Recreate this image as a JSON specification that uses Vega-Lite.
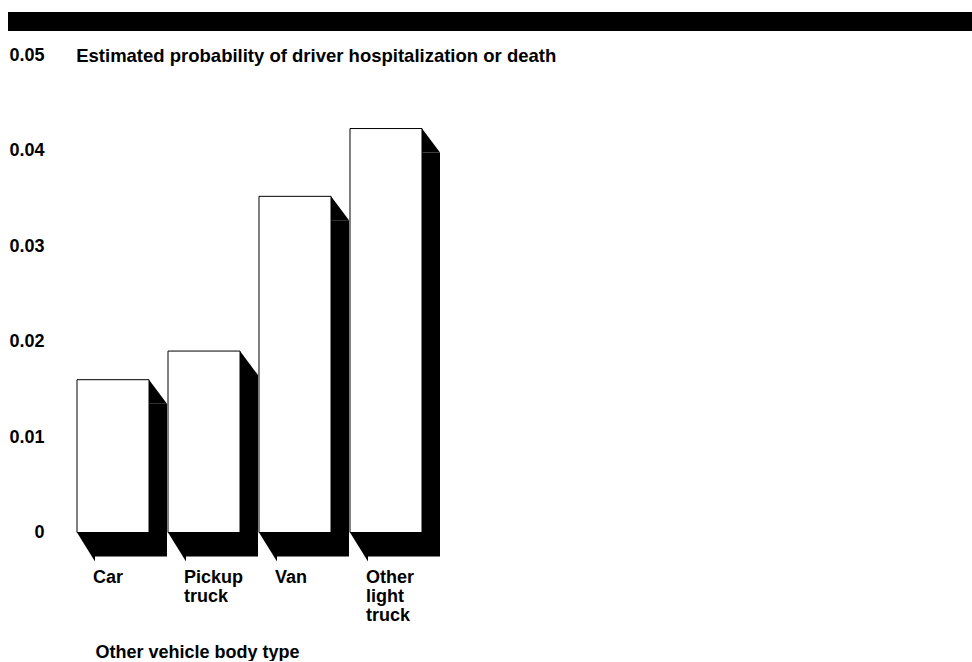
{
  "$schema": "https://vega.github.io/schema/vega-lite/v6.json",
  "autosize": {"type": "pad"},
  "padding": {"left": 8, "top": 12, "right": 0, "bottom": 0},
  "background": "white",
  "bounds": "flush",
  "spacing": 24,
  "config": {"view": {"stroke": null}, "font": "Liberation Sans", "axis": {"grid": false}},
  "datasets": {
    "probs": [
      {"type": "Car", "p": 0.016},
      {"type": "Pickup truck", "p": 0.019},
      {"type": "Van", "p": 0.0352},
      {"type": "Other light truck", "p": 0.0423}
    ],
    "header": [{"part": "banner"}]
  },
  "vconcat": [
    {
      "width": 964,
      "height": 19,
      "data": {"name": "header"},
      "mark": {"type": "rect", "color": "black"},
      "encoding": {}
    },
    {
      "width": 483,
      "height": 477.5,
      "data": {"name": "probs"},
      "layer": [
        {
          "mark": {"type": "bar", "color": "black", "xOffset": 18, "yOffset": 24, "y2Offset": 29},
          "encoding": {
            "x": {"field": "type", "type": "nominal", "sort": null, "title": "Other vehicle body type",
              "scale": {"paddingInner": 0.208791, "paddingOuter": 0.758242, "round": false},
              "axis": {"orient": "bottom", "labelAlign": "left", "labelOffset": -20, "labelBaseline": "top", "labelPadding": 36,
                "labelExpr": "split(datum.label, ' ')", "labelLineHeight": 19, "labelFontSize": 18, "labelFontWeight": "bold", "labelColor": "black", "labelAngle": 0,
                "ticks": false, "tickSize": 0, "domain": false, "labelOverlap": false, "labelBound": false,
                "titleAlign": "left", "titleAnchor": "start", "titleBaseline": "alphabetic", "titleX": 87, "titleY": 124.5, "titleFontSize": 18, "titleFontWeight": "bold", "titleColor": "black"}},
            "y": {"field": "p", "type": "quantitative", "title": "Estimated probability of driver hospitalization or death",
              "scale": {"domain": [0, 0.05], "nice": false, "zero": true},
              "axis": {"values": [0, 0.01, 0.02, 0.03, 0.04, 0.05], "format": ".2~f", "ticks": false, "tickSize": 0, "domain": false,
                "labelPadding": -36, "labelAlign": "right", "labelBaseline": "middle", "labelFontSize": 18, "labelFontWeight": "bold", "labelColor": "black", "labelOverlap": false, "labelFlush": false, "labelBound": false,
                "titleAngle": 0, "titleAlign": "left", "titleBaseline": "middle", "titleX": 67.7, "titleY": 0.5, "titleFontSize": 18.5, "titleFontWeight": "bold", "titleColor": "black"}}
          }
        },
        {
          "mark": {"type": "point", "shape": "M0,0L1.5,2L0,2Z", "size": 576, "filled": true, "color": "black", "strokeWidth": 0, "opacity": 1},
          "encoding": {
            "x": {"field": "type", "type": "nominal", "sort": null, "bandPosition": 1, "title": "Other vehicle body type",
              "scale": {"paddingInner": 0.208791, "paddingOuter": 0.758242, "round": false},
              "axis": {"orient": "bottom", "labelAlign": "left", "labelOffset": -20, "labelBaseline": "top", "labelPadding": 36,
                "labelExpr": "split(datum.label, ' ')", "labelLineHeight": 19, "labelFontSize": 18, "labelFontWeight": "bold", "labelColor": "black", "labelAngle": 0,
                "ticks": false, "tickSize": 0, "domain": false, "labelOverlap": false, "labelBound": false,
                "titleAlign": "left", "titleAnchor": "start", "titleBaseline": "alphabetic", "titleX": 87, "titleY": 124.5, "titleFontSize": 18, "titleFontWeight": "bold", "titleColor": "black"}},
            "y": {"field": "p", "type": "quantitative", "title": "Estimated probability of driver hospitalization or death",
              "scale": {"domain": [0, 0.05], "nice": false, "zero": true},
              "axis": {"values": [0, 0.01, 0.02, 0.03, 0.04, 0.05], "format": ".2~f", "ticks": false, "tickSize": 0, "domain": false,
                "labelPadding": -36, "labelAlign": "right", "labelBaseline": "middle", "labelFontSize": 18, "labelFontWeight": "bold", "labelColor": "black", "labelOverlap": false, "labelFlush": false, "labelBound": false,
                "titleAngle": 0, "titleAlign": "left", "titleBaseline": "middle", "titleX": 67.7, "titleY": 0.5, "titleFontSize": 18.5, "titleFontWeight": "bold", "titleColor": "black"}}
          }
        },
        {
          "mark": {"type": "point", "shape": "M0,0L1.5,2.4167L1.5,0Z", "size": 576, "filled": true, "color": "black", "strokeWidth": 0, "opacity": 1},
          "encoding": {
            "x": {"field": "type", "type": "nominal", "sort": null, "bandPosition": 0, "title": "Other vehicle body type",
              "scale": {"paddingInner": 0.208791, "paddingOuter": 0.758242, "round": false},
              "axis": {"orient": "bottom", "labelAlign": "left", "labelOffset": -20, "labelBaseline": "top", "labelPadding": 36,
                "labelExpr": "split(datum.label, ' ')", "labelLineHeight": 19, "labelFontSize": 18, "labelFontWeight": "bold", "labelColor": "black", "labelAngle": 0,
                "ticks": false, "tickSize": 0, "domain": false, "labelOverlap": false, "labelBound": false,
                "titleAlign": "left", "titleAnchor": "start", "titleBaseline": "alphabetic", "titleX": 87, "titleY": 124.5, "titleFontSize": 18, "titleFontWeight": "bold", "titleColor": "black"}},
            "y": {"datum": 0, "type": "quantitative", "title": "Estimated probability of driver hospitalization or death",
              "scale": {"domain": [0, 0.05], "nice": false, "zero": true},
              "axis": {"values": [0, 0.01, 0.02, 0.03, 0.04, 0.05], "format": ".2~f", "ticks": false, "tickSize": 0, "domain": false,
                "labelPadding": -36, "labelAlign": "right", "labelBaseline": "middle", "labelFontSize": 18, "labelFontWeight": "bold", "labelColor": "black", "labelOverlap": false, "labelFlush": false, "labelBound": false,
                "titleAngle": 0, "titleAlign": "left", "titleBaseline": "middle", "titleX": 67.7, "titleY": 0.5, "titleFontSize": 18.5, "titleFontWeight": "bold", "titleColor": "black"}}
          }
        },
        {
          "mark": {"type": "bar", "fill": "white", "stroke": "black", "strokeWidth": 1},
          "encoding": {
            "x": {"field": "type", "type": "nominal", "sort": null, "title": "Other vehicle body type",
              "scale": {"paddingInner": 0.208791, "paddingOuter": 0.758242, "round": false},
              "axis": {"orient": "bottom", "labelAlign": "left", "labelOffset": -20, "labelBaseline": "top", "labelPadding": 36,
                "labelExpr": "split(datum.label, ' ')", "labelLineHeight": 19, "labelFontSize": 18, "labelFontWeight": "bold", "labelColor": "black", "labelAngle": 0,
                "ticks": false, "tickSize": 0, "domain": false, "labelOverlap": false, "labelBound": false,
                "titleAlign": "left", "titleAnchor": "start", "titleBaseline": "alphabetic", "titleX": 87, "titleY": 124.5, "titleFontSize": 18, "titleFontWeight": "bold", "titleColor": "black"}},
            "y": {"field": "p", "type": "quantitative", "title": "Estimated probability of driver hospitalization or death",
              "scale": {"domain": [0, 0.05], "nice": false, "zero": true},
              "axis": {"values": [0, 0.01, 0.02, 0.03, 0.04, 0.05], "format": ".2~f", "ticks": false, "tickSize": 0, "domain": false,
                "labelPadding": -36, "labelAlign": "right", "labelBaseline": "middle", "labelFontSize": 18, "labelFontWeight": "bold", "labelColor": "black", "labelOverlap": false, "labelFlush": false, "labelBound": false,
                "titleAngle": 0, "titleAlign": "left", "titleBaseline": "middle", "titleX": 67.7, "titleY": 0.5, "titleFontSize": 18.5, "titleFontWeight": "bold", "titleColor": "black"}}
          }
        }
      ]
    }
  ]
}
